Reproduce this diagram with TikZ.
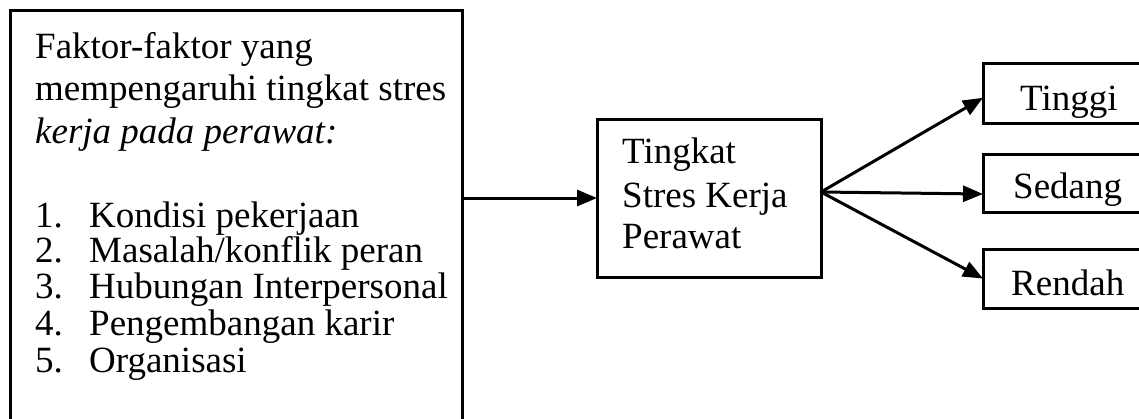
\documentclass[tikz,border=0pt]{standalone}
\usepackage{fontspec}
\setmainfont{Liberation Serif}
\usetikzlibrary{arrows.meta,calc}
\begin{document}
\begin{tikzpicture}[x=1pt,y=-1pt,
  box/.style={draw=black, line width=3pt, rectangle, inner sep=0pt, outer sep=0pt},
  txt/.style={anchor=base west, inner sep=0pt, font=\fontsize{37}{37}\selectfont},
  arr/.style={line width=3pt, -{Triangle[length=20pt,width=16pt]}}]
\useasboundingbox (0,0) rectangle (1139,418);
% boxes
\node[box, minimum width=452pt, minimum height=430pt, anchor=north west] (factors) at (10,10) {};
\node[box, minimum width=224pt, minimum height=158pt, anchor=north west] (mid) at (597,119) {};
\node[box, minimum width=180pt, minimum height=60pt, anchor=north west] (tinggi) at (983,63) {};
\node[box, minimum width=180pt, minimum height=58pt, anchor=north west] (sedang) at (983,154) {};
\node[box, minimum width=180pt, minimum height=59pt, anchor=north west] (rendah) at (983,249) {};
\begin{scope}
  \clip (tinggi.north west) rectangle (tinggi.south east);
  \node[txt] (t1) at (1020,110) {Tinggi};
\end{scope}
\begin{scope}
  \clip (sedang.north west) rectangle (sedang.south east);
  \node[txt] (t2) at (1013,198) {Sedang};
\end{scope}
\begin{scope}
  \clip (rendah.north west) rectangle (rendah.south east);
  \node[txt] (t3) at (1011,295) {Rendah};
\end{scope}
% left texts
\node[txt] (h1) at (35,58) {Faktor-faktor yang};
\node[txt] (h2) at (35,100) {mempengaruhi tingkat stres};
\node[txt] (h3) at (35,143) {\itshape kerja pada perawat:};
\node[txt] (n1) at (35,227) {1.};
\node[txt] (i1) at (89,227) {Kondisi pekerjaan};
\node[txt] (n2) at (35,262) {2.};
\node[txt] (i2) at (89,262) {Masalah/konflik peran};
\node[txt] (n3) at (35,298) {3.};
\node[txt] (i3) at (89,298) {Hubungan Interpersonal};
\node[txt] (n4) at (35,335) {4.};
\node[txt] (i4) at (89,335) {Pengembangan karir};
\node[txt] (n5) at (35,372) {5.};
\node[txt] (i5) at (89,372) {Organisasi};
% middle texts
\node[txt] (m1) at (622,163) {Tingkat};
\node[txt] (m2) at (622,207) {Stres Kerja};
\node[txt] (m3) at (622,248) {Perawat};
% connectors
\draw[arr] (mid.west -| factors.east) -- (mid.west);
\coordinate (fan) at ($(mid.east)+(0,-6)$);
\draw[arr] (fan) -- ($(tinggi.south west)!0.42!(tinggi.north west)$);
\draw[arr] (fan) -- ($(sedang.south west)!0.31!(sedang.north west)$);
\draw[arr] (fan) -- ($(rendah.south west)!0.5!(rendah.north west)$);
\end{tikzpicture}
\end{document}
